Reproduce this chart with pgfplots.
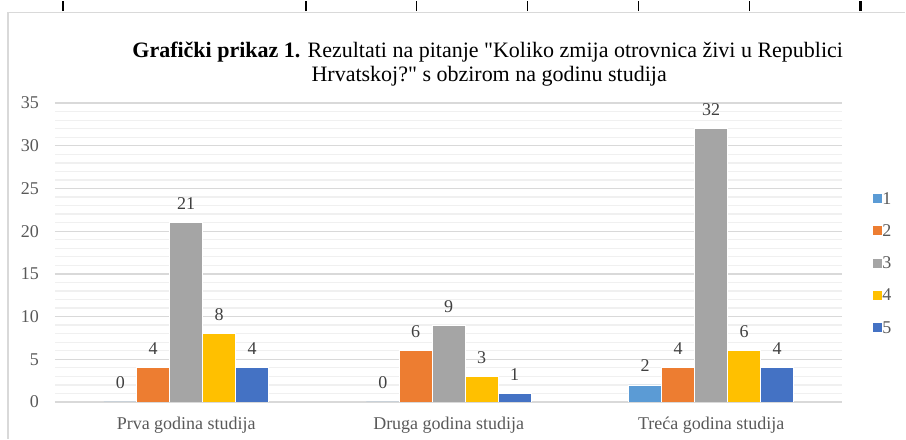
\documentclass[border=0pt]{standalone}
\usepackage{fontspec}
\setmainfont{Liberation Serif}[Ligatures=TeXOff]
\usepackage{pgfplots}
\pgfplotsset{compat=1.18}

\definecolor{sone}{HTML}{5B9BD5}
\definecolor{stwo}{HTML}{ED7D31}
\definecolor{sthree}{HTML}{A5A5A5}
\definecolor{sfour}{HTML}{FFC000}
\definecolor{sfive}{HTML}{4472C4}
\definecolor{majgrid}{HTML}{D9D9D9}
\definecolor{mingrid}{HTML}{F0F0F0}
\definecolor{ticktext}{HTML}{595959}
\definecolor{labeltext}{HTML}{404040}

\begin{document}
\begin{tikzpicture}
% page frame (picture is 906 x 438 px)
\path (0,0) rectangle (906bp,438bp);
\draw[majgrid, line width=1.2bp] (8bp,0) -- (8bp,427bp) -- (906bp,427bp);
% cut-off table rules above the chart
\foreach \x/\w in {63/2.4,306/2.4,417/1.4,528/1.4,639/1.4,750/1.4,861/2.4}
  \draw[black, line width=\w bp] (\x bp,428bp) -- (\x bp,438bp);

\node[anchor=base, font=\fontsize{22bp}{25bp}\selectfont, black, inner sep=0pt]
  at (488bp,382bp)
  {\textbf{Grafički prikaz 1.} Rezultati na pitanje "Koliko zmija otrovnica živi u Republici};
\node[anchor=base, font=\fontsize{22bp}{25bp}\selectfont, black, inner sep=0pt]
  at (489.5bp,358bp)
  {Hrvatskoj?" s obzirom na godinu studija};

\begin{axis}[
    at={(55bp,37bp)}, anchor=south west,
    scale only axis,
    width=788bp, height=299bp,
    ybar=0pt, bar width=33bp,
    xmin=-0.5, xmax=2.5,
    ymin=0, ymax=35,
    xtick={0,1,2},
    xticklabels={Prva godina studija, Druga godina studija, Treća godina studija},
    ytick={0,5,...,35},
    minor y tick num=4,
    ymajorgrids, yminorgrids,
    major grid style={majgrid, line width=1.3bp},
    minor grid style={mingrid, line width=1.3bp},
    axis line style={draw=none},
    major tick length=0pt, minor tick length=0pt,
    tick style={draw=none},
    /pgf/number format/assume math mode=true,
    tick label style={font=\fontsize{18bp}{21bp}\selectfont, text=ticktext},
    yticklabel style={anchor=east, inner sep=0pt, xshift=-16bp},
    xticklabel style={anchor=base, inner sep=0pt, yshift=-28bp},
    nodes near coords,
    every node near coord/.append style={anchor=base, inner sep=0pt, yshift=13bp,
      font=\fontsize{18bp}{21bp}\selectfont, text=labeltext},
    legend style={draw=none, fill=none, at={(axis description cs:1.037,0.734)},
      anchor=north west, inner sep=0pt,
      font=\fontsize{18bp}{21bp}\selectfont, text=ticktext,
      nodes={minimum height=32.3bp, inner sep=0pt},
      /tikz/every even column/.append style={column sep=5bp}},
    legend cell align=left,
    legend image code/.code={\fill[#1] (0bp,-4.5bp) rectangle (10bp,5.5bp);},
]
\addplot[fill=sone, draw=white, line width=0.6bp] coordinates {(0,0) (1,0) (2,2)};
\addplot[fill=stwo, draw=white, line width=0.6bp] coordinates {(0,4) (1,6) (2,4)};
\addplot[fill=sthree, draw=white, line width=0.6bp] coordinates {(0,21) (1,9) (2,32)};
\addplot[fill=sfour, draw=white, line width=0.6bp] coordinates {(0,8) (1,3) (2,6)};
\addplot[fill=sfive, draw=white, line width=0.6bp] coordinates {(0,4) (1,1) (2,4)};
\legend{1,2,3,4,5}
\end{axis}
\end{tikzpicture}
\end{document}
